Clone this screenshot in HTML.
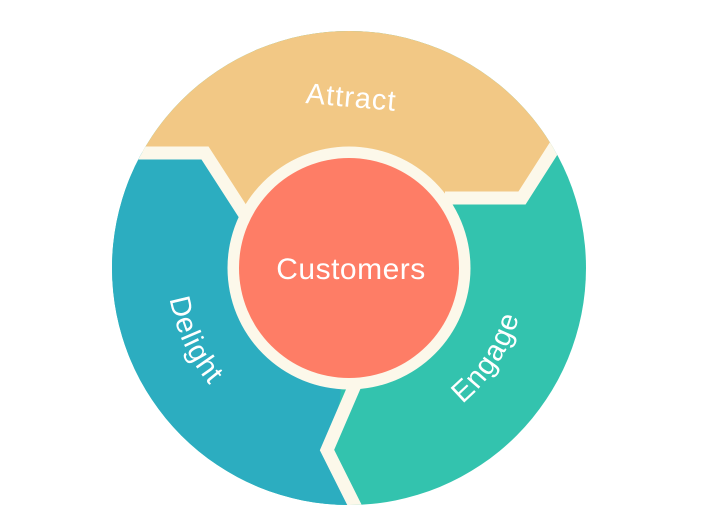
<!DOCTYPE html>
<html><head><meta charset="utf-8"><style>
html,body{margin:0;padding:0;background:#fff;width:724px;height:525px;overflow:hidden}
svg{display:block}
text{font-family:"Liberation Sans",sans-serif;fill:#fff}
</style></head><body>
<svg width="724" height="525" viewBox="0 0 724 525" xmlns="http://www.w3.org/2000/svg">
<defs>
<clipPath id="c"><circle cx="349" cy="268" r="237"/></clipPath>
<path id="pd" d="M178 205.8 A182 182 0 0 0 286.8 439"/>
<path id="pe" d="M385.8 441.1 A177 177 0 0 0 522.1 231.2"/>
</defs>
<g clip-path="url(#c)">
<rect x="0" y="0" width="724" height="525" fill="#33C3AE"/>
<polygon points="90,0 90,152 205,152 260,240 349,268 440,198 522,198 610,60 620,0" fill="#F2C885"/>
<polygon points="90,152 205,152 260,240 349,268 340,400 327,450 360,525 90,525" fill="#2CADC0"/>
<polyline points="90,153 205,153 245,215" fill="none" stroke="#FCF8EA" stroke-width="13"/>
<polyline points="600,76 522,198 445,198" fill="none" stroke="#FCF8EA" stroke-width="13"/>
<polyline points="355,385 327,450 362,520" fill="none" stroke="#FCF8EA" stroke-width="13"/>
</g>
<circle cx="349" cy="268" r="121.5" fill="#FCF8EA"/>
<circle cx="349" cy="268" r="110" fill="#FE7D66"/>
<text x="351" y="279" font-size="30" text-anchor="middle" letter-spacing="0.5">Customers</text>
<text x="351" y="107" font-size="29" text-anchor="middle" letter-spacing="1" transform="rotate(5 351 100)">Attract</text>
<text font-size="29" letter-spacing="1"><textPath href="#pd" startOffset="50%" text-anchor="middle">Delight</textPath></text>
<text font-size="29" letter-spacing="1"><textPath href="#pe" startOffset="50%" text-anchor="middle">Engage</textPath></text>
</svg>
</body></html>
